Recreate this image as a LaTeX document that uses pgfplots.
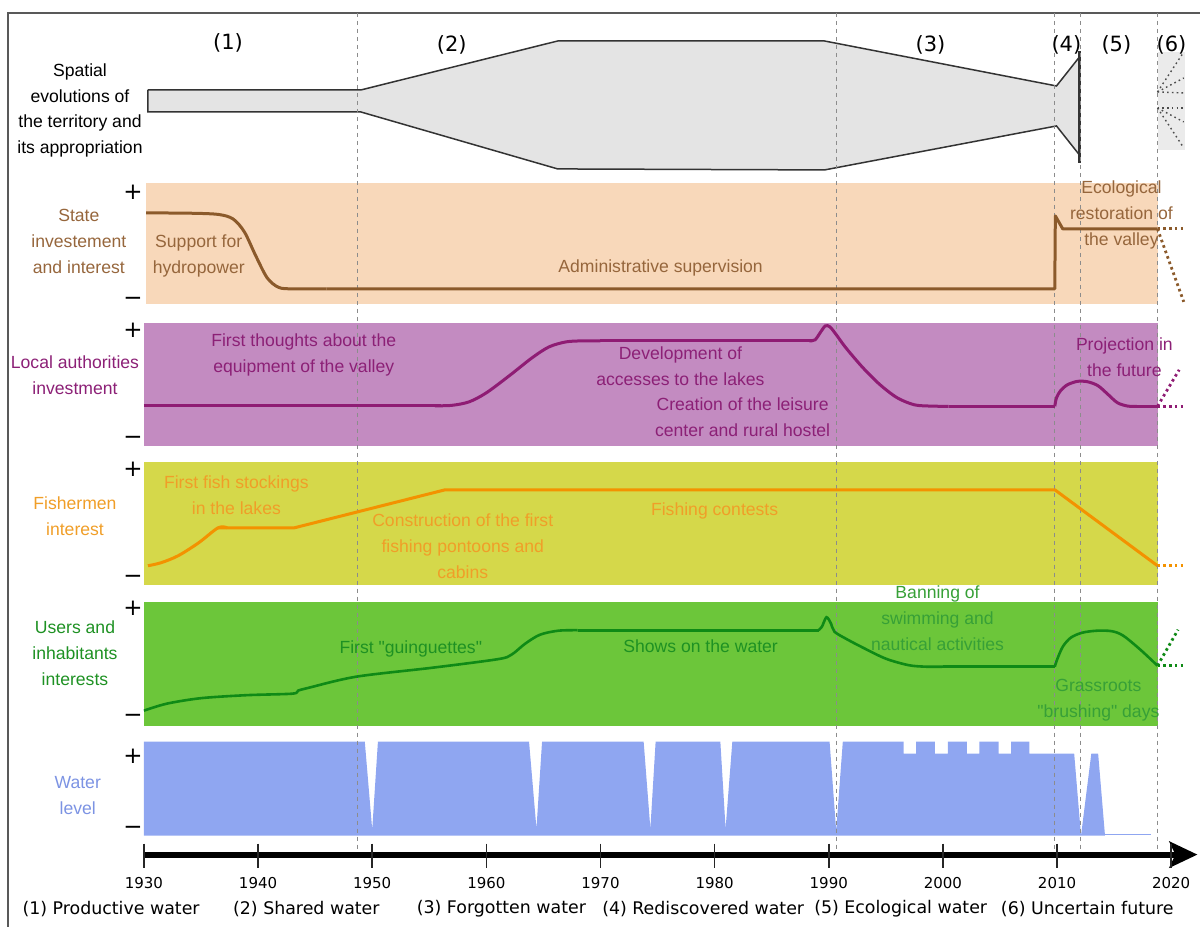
\documentclass[border=0pt]{standalone}
\usepackage{pgfplots}
\pgfplotsset{compat=1.18}
\usepackage{fontspec}
\setmainfont{Liberation Sans}
\newfontfamily\libplain{Liberation Sans}[Ligatures=TeXOff]
\newfontfamily\dejavu{DejaVu Sans}
\usetikzlibrary{arrows.meta}
\definecolor{stateband}{RGB}{248,216,186}
\definecolor{localband}{RGB}{195,139,193}
\definecolor{fishband}{RGB}{213,216,74}
\definecolor{userband}{RGB}{108,198,58}
\definecolor{waterc}{RGB}{143,166,241}
\definecolor{statec}{RGB}{139,90,43}
\definecolor{statet}{RGB}{150,102,60}
\definecolor{localc}{RGB}{143,28,116}
\definecolor{localt}{RGB}{140,32,118}
\definecolor{fishc}{RGB}{243,146,0}
\definecolor{fisht}{RGB}{240,158,40}
\definecolor{userc}{RGB}{15,138,22}
\definecolor{usert}{RGB}{30,145,35}
\definecolor{usert2}{RGB}{55,160,55}
\definecolor{watert}{RGB}{124,147,227}
\definecolor{shapefill}{RGB}{228,228,228}
\tikzset{
  lab/.style={font=\fontsize{8.8}{13}\selectfont, align=center, inner sep=0pt},
  pm/.style={font=\dejavu\fontsize{11.5}{12}\selectfont, inner sep=0pt},
  vdash/.style={color=black!45, line width=0.4pt, dash pattern=on 2pt off 2pt},
  fut/.style={line width=1.4pt, dash pattern=on 1.3pt off 1.6pt},
}
\begin{document}
\begin{tikzpicture}
\begin{axis}[
  width=600.5pt, height=463.5pt, scale only axis,
  xmin=1917.39, xmax=2022.56, ymin=0, ymax=927, y dir=reverse,
  hide axis, clip=false,
]
\addplot[draw=none, forget plot] coordinates {(1917.39,0) (2022.56,927)};
% frame
\addplot[color=black!65, line width=0.6pt] coordinates {(1918.09,927) (1918.09,13) (2022.56,13)};
% spatial shape
\addplot[fill=shapefill, draw=black!80, line width=0.75pt] coordinates {
 (1930.35,90) (1949.0,90) (1966.25,41) (1989.63,41) (2009.95,86) (2011.96,57)
 (2011.96,155) (2009.95,126) (1989.63,170) (1966.25,169) (1949.0,112) (1930.35,112) (1930.35,90)};
\addplot[black!80, line width=1.2pt] coordinates {(2011.96,51) (2011.96,163)};
% uncertain future fan
\addplot[fill=black!8, draw=none] coordinates {(2018.8,52) (2021.2,52) (2021.2,150) (2018.8,150)};
\addplot[black!70, line width=0.7pt, dash pattern=on 0.8pt off 1.6pt] coordinates {(2018.8,92) (2021.1,52)};
\addplot[black!70, line width=0.7pt, dash pattern=on 0.8pt off 1.6pt] coordinates {(2018.8,92) (2021.1,78)};
\addplot[black!70, line width=0.7pt, dash pattern=on 0.8pt off 1.6pt] coordinates {(2018.8,92) (2021.1,93)};
\addplot[black!70, line width=0.7pt, dash pattern=on 0.8pt off 1.6pt] coordinates {(2018.8,108) (2021.1,108)};
\addplot[black!70, line width=0.7pt, dash pattern=on 0.8pt off 1.6pt] coordinates {(2018.8,108) (2021.1,122)};
\addplot[black!70, line width=0.7pt, dash pattern=on 0.8pt off 1.6pt] coordinates {(2018.8,108) (2021.1,148)};
% bands
\addplot[fill=stateband, draw=none] coordinates {(1930.15,183) (2018.85,183) (2018.85,304) (1930.15,304)};
\addplot[fill=localband, draw=none] coordinates {(1930.0,323) (2018.8,323) (2018.8,446) (1930.0,446)};
\addplot[fill=fishband, draw=none] coordinates {(1930.0,462) (2018.8,462) (2018.8,585) (1930.0,585)};
\addplot[fill=userband, draw=none] coordinates {(1930.0,602) (2018.8,602) (2018.8,726) (1930.0,726)};
% water level
\addplot[fill=waterc, draw=none] coordinates {
 (1930,836) (1930,742) (1949.35,742) (1950,830) (1950.5,742)
 (1963.74,742) (1964.39,829) (1964.88,742)
 (1973.78,742) (1974.37,829) (1974.83,742)
 (1980.5,742) (1980.96,829) (1981.55,742)
 (1990.07,742) (1990.65,831) (1991.23,742)
 (1996.55,742) (1996.55,754) (1997.66,754) (1997.66,742)
 (1999.3,742) (1999.3,754) (2000.43,754) (2000.43,742)
 (2002.1,742) (2002.1,754) (2003.2,754) (2003.2,742)
 (2004.87,742) (2004.87,754) (2005.98,754) (2005.98,742)
 (2007.58,742) (2007.58,754) (2011.5,754) (2012.1,836)
 (2013.0,754) (2013.6,754) (2014.2,836) (1930,836)};
\addplot[waterc, line width=0.8pt] coordinates {(2014.0,835) (2018.2,835)};
% period dashed lines
\addplot[vdash] coordinates {(1948.74,13) (1948.74,860)};
\addplot[vdash] coordinates {(1990.66,13) (1990.66,860)};
\addplot[vdash] coordinates {(2009.8,13) (2009.8,860)};
\addplot[vdash] coordinates {(2012.07,13) (2012.07,860)};
\addplot[vdash] coordinates {(2018.8,13) (2018.8,860)};
% state curve
\addplot[statec, line width=1.5pt, smooth] coordinates {
 (1930.2,213) (1934,213.3) (1936.5,214.5) (1937.8,219) (1938.8,232) (1939.8,256) (1940.8,278) (1941.8,287.5) (1943,289) (1946,289)};
\addplot[statec, line width=1.5pt, line join=round] coordinates {
 (1946,289) (2009.8,289) (2009.85,216) (2010.5,229) (2018.8,229)};
\addplot[statec, fut] coordinates {(2018.8,229) (2021.2,229)};
\addplot[statec, fut] coordinates {(2018.8,229) (2021.1,302)};
% local curve
\addplot[localc, line width=1.5pt] coordinates {(1930,406) (1956,406)};
\addplot[localc, line width=1.5pt, smooth] coordinates {
 (1955.5,406) (1957,405.5) (1958.5,402) (1960,393) (1962,376) (1964,358) (1965.5,347) (1967,342) (1968.5,341) (1970,341)};
\addplot[localc, line width=1.5pt] coordinates {(1970,341) (1988.5,341)};
\addplot[localc, line width=1.5pt, smooth] coordinates {
 (1988.3,341) (1988.8,340) (1989.3,332) (1989.7,326) (1990.1,327) (1990.6,334) (1991.5,348) (1993,368) (1994.5,385) (1996,398) (1997.5,405) (1999,406.3) (2000.5,406.5)};
\addplot[localc, line width=1.5pt] coordinates {(2000.5,406.5) (2009.8,406.5)};
\addplot[localc, line width=1.5pt, smooth] coordinates {
 (2009.8,406.5) (2009.95,398) (2010.3,391) (2010.9,385) (2011.8,381.5) (2012.7,382) (2013.6,386) (2014.5,395) (2015.3,403) (2016.2,406.3) (2017,406.5)};
\addplot[localc, line width=1.5pt] coordinates {(2017,406.5) (2018.8,406.5)};
\addplot[localc, fut] coordinates {(2018.8,406.5) (2021.2,406.5)};
\addplot[localc, fut] coordinates {(2018.8,406.5) (2020.7,370)};
% fishermen curve
\addplot[fishc, line width=1.5pt, smooth] coordinates {
 (1930.35,566) (1931.5,563) (1933,556) (1934.8,543) (1936.5,528) (1937.3,528)};
\addplot[fishc, line width=1.5pt, line join=round] coordinates {
 (1936.5,528) (1943.2,528) (1956.4,490) (2009.8,490) (2018.8,566)};
\addplot[fishc, fut] coordinates {(2018.8,566) (2021.2,566)};
% users curve
\addplot[userc, line width=1.3pt, smooth] coordinates {
 (1930,711) (1932,704) (1935,698.5) (1939,695.5) (1943,694) (1943.5,691) (1944.3,688.5) (1948.6,677) (1955.3,668) (1961,659.5) (1962.2,655) (1963.4,644) (1964.7,635) (1966.3,631) (1968,630.5)};
\addplot[userc, line width=1.3pt] coordinates {(1968,630.5) (1989.1,630.5)};
\addplot[userc, line width=1.3pt, smooth] coordinates {
 (1989.1,630.5) (1989.4,627) (1989.8,617.5) (1990.2,624) (1990.5,632) (1991.5,639) (1993,648) (1995,659) (1997,665.5) (1998.5,667) (2000,667)};
\addplot[userc, line width=1.3pt] coordinates {(2000,667) (2009.8,667)};
\addplot[userc, line width=1.3pt, smooth] coordinates {
 (2009.8,667) (2010,660) (2010.5,647) (2011.2,638) (2012.2,633) (2013.5,631) (2014.8,631.5) (2015.8,636) (2017.3,650) (2018.8,666)};
\addplot[userc, fut] coordinates {(2018.8,666) (2021.2,666)};
\addplot[userc, fut] coordinates {(2018.8,666) (2020.6,630)};
% timeline
\addplot[black, line width=3pt, -{Stealth[length=14pt, width=13pt, inset=3pt]}] coordinates {(1930,855) (2022.3,855)};
\pgfplotsinvokeforeach{1930,1940,...,2020}{
  \addplot[black!85, line width=0.8pt] coordinates {(#1,844) (#1,868)};
  \node[font=\dejavu\fontsize{7.5}{9}\selectfont] at (axis cs:#1,883) {#1};
}
% bottom period names
\node[font=\dejavu\fontsize{8.7}{11}\selectfont] at (axis cs:1927.12,909) {(1) Productive water};
\node[font=\dejavu\fontsize{8.7}{11}\selectfont] at (axis cs:1944.23,909) {(2) Shared water};
\node[font=\dejavu\fontsize{8.7}{11}\selectfont] at (axis cs:1961.32,909) {(3) Forgotten water};
\node[font=\dejavu\fontsize{8.7}{11}\selectfont] at (axis cs:1979.0,909) {(4) Rediscovered water};
\node[font=\dejavu\fontsize{8.7}{11}\selectfont] at (axis cs:1996.3,909) {(5) Ecological water};
\node[font=\dejavu\fontsize{8.7}{11}\selectfont] at (axis cs:2012.65,909) {(6) Uncertain future};
% period numbers
\node[font=\dejavu\fontsize{10.5}{12}\selectfont] at (axis cs:1937.36,43) {(1)};
\node[font=\dejavu\fontsize{10.5}{12}\selectfont] at (axis cs:1956.97,45) {(2)};
\node[font=\dejavu\fontsize{10.5}{12}\selectfont] at (axis cs:1998.91,45) {(3)};
\node[font=\dejavu\fontsize{10.5}{12}\selectfont] at (axis cs:2010.82,45) {(4)};
\node[font=\dejavu\fontsize{10.5}{12}\selectfont] at (axis cs:2015.2,45) {(5)};
\node[font=\dejavu\fontsize{10.5}{12}\selectfont] at (axis cs:2020.02,45) {(6)};
% plus / minus
\pgfplotsinvokeforeach{192,330,470,609,757}{\node[pm] at (axis cs:1929.04,#1) {+};}
\pgfplotsinvokeforeach{302,441,580,719,831}{\node[pm] at (axis cs:1929.04,#1) {−};}
% row labels
\node[lab, text=black] at (axis cs:1924.4,110.5) {Spatial\\evolutions of\\the territory and\\its appropriation};
\node[lab, text=statet] at (axis cs:1924.3,242) {State\\investement\\and interest};
\node[lab, text=localt] at (axis cs:1923.96,375.5) {Local authorities\\investment};
\node[lab, text=fisht] at (axis cs:1923.96,516) {Fishermen\\interest};
\node[lab, text=usert] at (axis cs:1923.96,654) {Users and\\inhabitants\\interests};
\node[lab, text=watert] at (axis cs:1924.2,796) {Water\\level};
% annotations
\node[lab, text=statet] at (axis cs:1934.8,256) {Support for\\hydropower};
\node[lab, text=statet] at (axis cs:1975.27,268) {Administrative supervision};
\node[lab, text=statet] at (axis cs:2015.64,215) {Ecological\\restoration of\\the valley};
\node[lab, text=localt] at (axis cs:1944.0,355.5) {First thoughts about the\\equipment of the valley};
\node[lab, text=localt] at (axis cs:1977.0,366.5) {Development of\\accesses to the lakes};
\node[lab, text=localt] at (axis cs:1982.45,417.5) {Creation of the leisure\\center and rural hostel};
\node[lab, text=localt] at (axis cs:2015.9,357.5) {Projection in\\the future};
\node[lab, text=fisht] at (axis cs:1938.1,495.5) {First fish stockings\\in the lakes};
\node[lab, text=fisht] at (axis cs:1957.93,546.5) {Construction of the first\\fishing pontoons and\\cabins};
\node[lab, text=fisht] at (axis cs:1980.0,511) {Fishing contests};
\node[lab, text=usert, font=\libplain\fontsize{8.8}{13}\selectfont] at (axis cs:1953.38,649) {First "guinguettes"};
\node[lab, text=usert] at (axis cs:1978.77,647) {Shows on the water};
\node[lab, text=usert2] at (axis cs:1999.53,618.5) {Banning of\\swimming and\\nautical activities};
\node[lab, text=usert2, font=\libplain\fontsize{8.8}{13}\selectfont] at (axis cs:2013.62,700.5) {Grassroots\\"brushing" days};
\end{axis}
\end{tikzpicture}
\end{document}
